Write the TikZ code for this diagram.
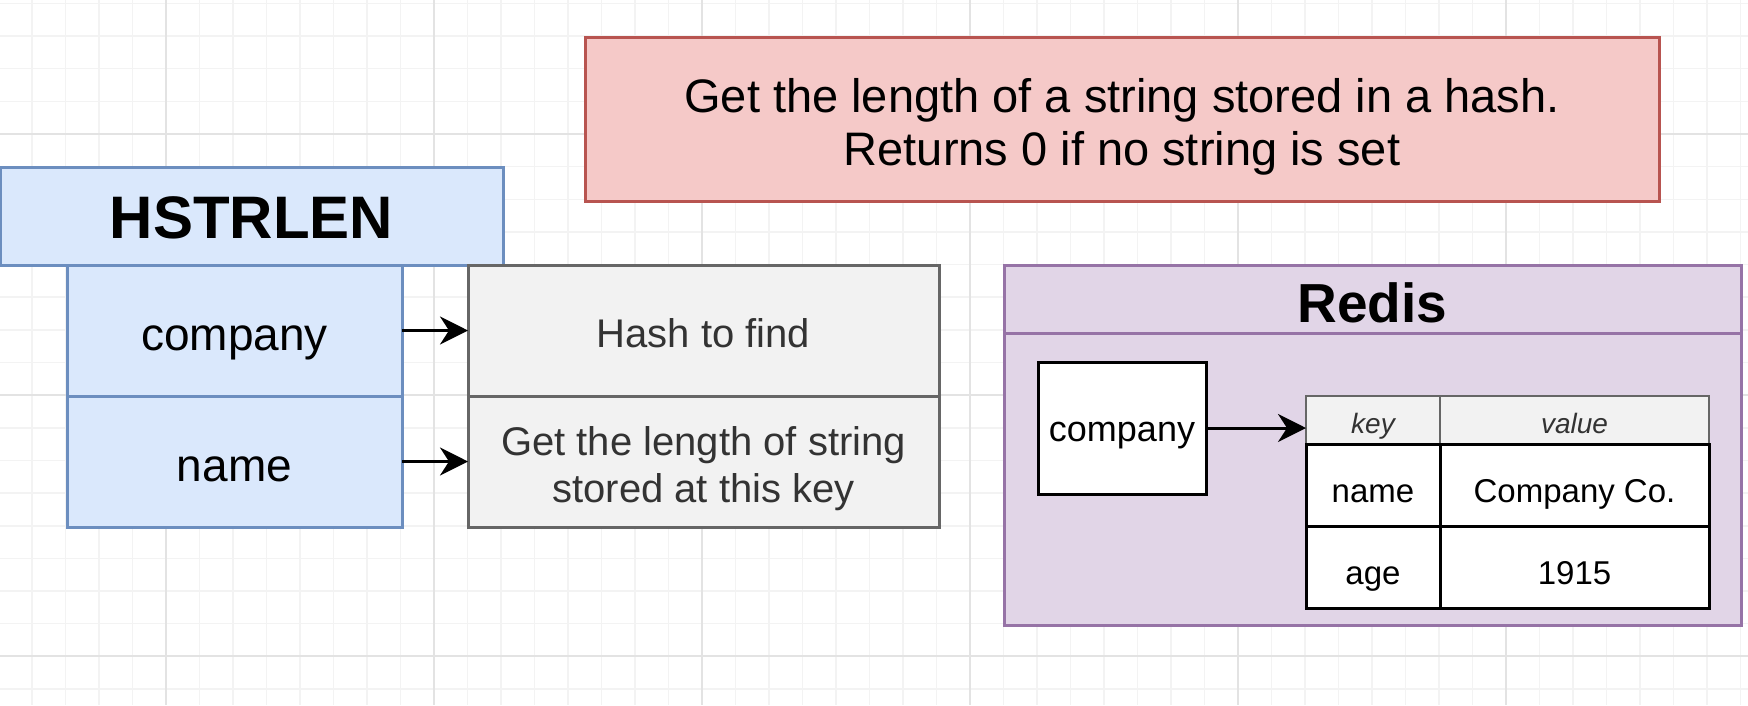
\documentclass[tikz,border=0pt]{standalone}
\usepackage{fontspec}
\setmainfont{Liberation Sans}
\usetikzlibrary{positioning,arrows.meta}
\definecolor{bluefill}{HTML}{DAE8FC}
\definecolor{bluedraw}{HTML}{6C8EBF}
\definecolor{grayfill}{HTML}{F2F2F2}
\definecolor{graydraw}{HTML}{666666}
\definecolor{graytext}{HTML}{333333}
\definecolor{redfill}{HTML}{F5C9C8}
\definecolor{reddraw}{HTML}{B85450}
\definecolor{purplefill}{HTML}{E1D5E7}
\definecolor{purpledraw}{HTML}{9673A6}
\definecolor{gridlight}{HTML}{F3F3F3}
\definecolor{griddark}{HTML}{E3E3E3}
\tikzset{x=1pt,y=-1pt,every node/.style={inner sep=0pt,outer sep=0pt,align=center},
  minorline/.style={draw=gridlight,line width=1.5pt},
  majorline/.style={draw=griddark,line width=1.5pt},
  cell/.style={rectangle,anchor=north west,line width=3pt},
  cmdbox/.style={cell,draw=bluedraw,fill=bluefill,minimum width=503pt,minimum height=98pt,font=\fontsize{60}{72}\selectfont\bfseries,text height=56pt,text depth=12pt},
  argbox/.style={cell,draw=bluedraw,fill=bluefill,minimum width=335pt,minimum height=131pt,font=\fontsize{46}{52}\selectfont,text height=48pt,text depth=9pt},
  descbox/.style={cell,draw=graydraw,fill=grayfill,text=graytext,minimum width=471pt,minimum height=131pt,font=\fontsize{40}{47}\selectfont,text height=41pt,text depth=8pt},
  notebox/.style={cell,draw=reddraw,fill=redfill,minimum width=1074pt,minimum height=164pt,font=\fontsize{47}{53}\selectfont},
  redisbox/.style={cell,draw=purpledraw,fill=purplefill,minimum width=737pt},
  keybox/.style={cell,draw=black,fill=white,minimum width=168pt,minimum height=132pt,font=\fontsize{36}{40}\selectfont,text height=33pt,text depth=7pt},
  thead/.style={cell,draw=graydraw,fill=grayfill,line width=2pt,minimum height=48pt,text=graytext,font=\fontsize{28}{32}\selectfont\itshape,text height=32pt,text depth=6pt},
  tcell/.style={cell,draw=black,fill=white,minimum height=82pt,font=\fontsize{33}{38}\selectfont,text height=41pt,text depth=7pt},
  arrow/.style={draw,line width=3pt,-{Stealth[length=28pt,width=28pt,inset=9pt]}}
}
\begin{document}
\begin{tikzpicture}
  \fill[white] (0,0) rectangle (1748,705);
  \useasboundingbox (0,0) rectangle (1748,705);
  \foreach \i in {0,...,51}
    \draw[minorline] ({32+33.5*\i},0) -- ++(0,705);
  \foreach \j in {-1,...,21}
    \draw[minorline] (0,{36+32.65*\j}) -- ++(1748,0);
  \foreach \i in {166,434,702,970,1238,1506}
    \draw[majorline] (\i,0) -- ++(0,705);
  \foreach \j in {134,395,656}
    \draw[majorline] (0,\j) -- ++(1748,0);

  \node[notebox,text height=101pt,text depth=9pt] (note) at (585,37) {Get the length of a string stored in a hash.\\Returns 0 if no string is set};

  \node[cmdbox] (cmd) at (0,167) {HSTRLEN};
  \node[argbox] (argCompany) at (67,265) {company};
  \node[argbox,below=0pt of argCompany] (argName) {name};
  \node[descbox] (descHash) at (468,265) {Hash to find};
  \node[descbox,below=0pt of descHash,text height=89pt,text depth=8pt] (descKey) {Get the length of string\\stored at this key};
  \path
  (argCompany) edge[arrow] (descHash)
  (argName) edge[arrow] (descKey)
  ;

  \node[redisbox,minimum height=66pt,font=\fontsize{55}{60}\selectfont\bfseries,text height=57pt,text depth=11pt] (redisTitle) at (1004,265) {Redis};
  \node[redisbox,minimum height=292pt,below=0pt of redisTitle] (redisBody) {};
  \node[keybox] (keyBox) at (1038,362) {company};
  \node[thead,minimum width=134pt] (hdrKey) at (1306,396) {key};
  \node[thead,minimum width=269pt,right=0pt of hdrKey] (hdrValue) {value};
  \node[tcell,minimum width=134pt,below=0pt of hdrKey] (rowName) {name};
  \node[tcell,minimum width=269pt,right=0pt of rowName] (rowCompany) {Company Co.};
  \node[tcell,minimum width=134pt,below=0pt of rowName] (rowAge) {age};
  \node[tcell,minimum width=269pt,right=0pt of rowAge] (rowYear) {1915};
  \path (keyBox) edge[arrow] (keyBox -| hdrKey.west);
\end{tikzpicture}
\end{document}
